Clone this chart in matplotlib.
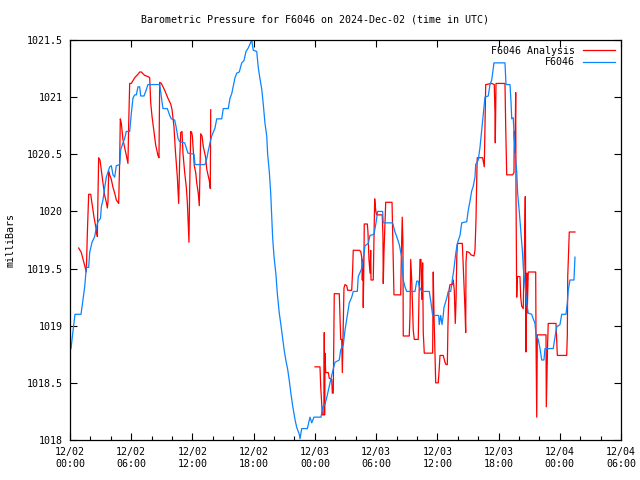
import numpy as np
import matplotlib
matplotlib.use("Agg")
import matplotlib.pyplot as plt
from matplotlib.ticker import MultipleLocator

# hours since 2024-12-02 00:00 UTC, pressure in mbar
obs_h = [0.10, 0.25, 0.49, 1.08, 1.44, 1.60, 1.83, 1.93, 2.16, 2.42, 2.58, 2.74, 2.99, 3.07, 3.23, 3.40,
         3.56, 3.89, 4.05, 4.21, 4.38, 4.54, 4.87, 4.97, 5.19, 5.36, 5.52, 5.85, 6.01, 6.17, 6.34, 6.50,
         6.66, 6.83, 6.93, 7.25, 7.42, 7.64, 8.79, 9.02, 9.11, 9.54, 9.77, 9.93, 10.26, 10.42, 10.58, 10.75,
         11.24, 11.56, 12.15, 12.25, 13.23, 13.40, 13.55, 13.72, 13.89, 14.21, 14.38, 14.87, 15.02, 15.51,
         15.68, 15.85, 16.17, 16.34, 16.59, 16.83, 17.05, 17.25, 17.47, 17.81, 17.96, 18.30, 18.45, 18.62,
         18.79, 18.94, 19.11, 19.28, 19.37, 19.53, 19.67, 19.77, 19.86, 19.99, 20.19, 20.32, 20.51, 20.65,
         20.84, 21.00, 21.17, 21.33, 21.49, 21.66, 21.82, 22.05, 22.22, 22.47, 22.54, 22.71, 23.26, 23.52,
         23.69, 23.91, 24.60, 24.76, 24.99, 25.21, 25.48, 25.74, 25.97, 26.39, 26.53, 26.78, 26.95, 27.18,
         27.37, 27.61, 27.76, 28.16, 28.25, 28.59, 28.74, 28.91, 29.23, 29.40, 29.79, 29.99, 30.15, 30.64,
         30.70, 31.62, 31.85, 32.02, 32.27, 32.51, 32.66, 32.83, 33.00, 33.81, 33.98, 34.13, 34.23, 34.47,
         35.21, 35.38, 35.54, 36.13, 36.19, 36.33, 36.46, 36.58, 36.65, 36.92, 37.07, 37.31, 37.47, 37.63,
         37.80, 37.96, 38.22, 38.39, 38.88, 39.03, 39.20, 39.37, 39.52, 39.69, 39.76, 40.01, 40.18, 40.35,
         40.50, 40.67, 40.99, 41.16, 41.33, 41.55, 42.63, 42.73, 43.12, 43.22, 43.29, 43.44, 43.51, 43.61,
         43.78, 43.87, 44.03, 44.17, 44.33, 44.43, 44.59, 44.76, 44.91, 45.24, 45.57, 45.67, 45.89, 46.06,
         46.23, 46.45, 46.55, 47.36, 47.53, 47.70, 48.02, 48.19, 48.61, 48.74, 48.83, 49.00, 49.39, 49.49]
obs_p = [1018.80, 1018.92, 1019.10, 1019.10, 1019.34, 1019.51, 1019.51, 1019.64, 1019.73, 1019.78, 1019.86,
         1019.91, 1019.94, 1020.04, 1020.10, 1020.21, 1020.30, 1020.39, 1020.40, 1020.32, 1020.30, 1020.40,
         1020.41, 1020.54, 1020.60, 1020.64, 1020.70, 1020.70, 1020.86, 1020.99, 1021.02, 1021.02, 1021.09,
         1021.09, 1021.01, 1021.01, 1021.05, 1021.11, 1021.11, 1020.96, 1020.90, 1020.90, 1020.84, 1020.81,
         1020.80, 1020.73, 1020.64, 1020.61, 1020.60, 1020.51, 1020.50, 1020.41, 1020.41, 1020.46, 1020.53,
         1020.60, 1020.66, 1020.73, 1020.81, 1020.81, 1020.90, 1020.90, 1020.99, 1021.03, 1021.17, 1021.21,
         1021.22, 1021.30, 1021.32, 1021.40, 1021.43, 1021.50, 1021.41, 1021.40, 1021.26, 1021.16, 1021.07,
         1020.94, 1020.77, 1020.66, 1020.50, 1020.35, 1020.16, 1019.96, 1019.77, 1019.61, 1019.44, 1019.28,
         1019.11, 1019.02, 1018.89, 1018.78, 1018.69, 1018.62, 1018.52, 1018.40, 1018.30, 1018.18, 1018.11,
         1018.05, 1018.01, 1018.10, 1018.10, 1018.20, 1018.15, 1018.20, 1018.20, 1018.29, 1018.31, 1018.39,
         1018.50, 1018.60, 1018.68, 1018.70, 1018.79, 1018.83, 1018.96, 1019.09, 1019.20, 1019.25, 1019.30,
         1019.30, 1019.43, 1019.50, 1019.58, 1019.70, 1019.72, 1019.79, 1019.80, 1019.90, 1020.00, 1020.00,
         1019.90, 1019.90, 1019.82, 1019.78, 1019.71, 1019.60, 1019.40, 1019.34, 1019.30, 1019.30, 1019.39,
         1019.39, 1019.34, 1019.30, 1019.30, 1019.20, 1019.09, 1019.09, 1019.01, 1019.09, 1019.01, 1019.09,
         1019.16, 1019.24, 1019.30, 1019.30, 1019.40, 1019.50, 1019.63, 1019.72, 1019.79, 1019.90, 1019.91,
         1020.01, 1020.09, 1020.18, 1020.22, 1020.30, 1020.41, 1020.45, 1020.56, 1020.71, 1020.84, 1021.00,
         1021.01, 1021.11, 1021.15, 1021.30, 1021.30, 1021.11, 1021.11, 1020.96, 1020.81, 1020.82, 1020.70,
         1020.51, 1020.35, 1020.16, 1020.00, 1019.84, 1019.66, 1019.50, 1019.36, 1019.20, 1019.11, 1019.10,
         1019.02, 1018.92, 1018.88, 1018.80, 1018.70, 1018.70, 1018.80, 1018.80, 1018.90, 1018.99, 1019.01,
         1019.10, 1019.10, 1019.20, 1019.31, 1019.40, 1019.40, 1019.60]

# model analysis, two pieces with a gap of missing data
ana_h1 = [0.85, 1.11, 1.37, 1.60, 1.70, 1.83, 2.03, 2.16, 2.35, 2.58, 2.68, 2.74, 2.81, 2.94, 3.07, 3.23,
          3.40, 3.56, 3.66, 3.72, 3.79, 3.89, 4.05, 4.21, 4.38, 4.54, 4.77, 4.87, 4.93, 5.03, 5.19, 5.36,
          5.52, 5.68, 5.75, 5.85, 6.01, 6.34, 6.66, 6.83, 6.99, 7.32, 7.64, 7.81, 7.91, 8.04, 8.23, 8.40,
          8.62, 8.72, 8.79, 8.95, 9.28, 9.60, 9.87, 10.00, 10.19, 10.32, 10.42, 10.52, 10.65, 10.75, 10.85,
          10.98, 11.07, 11.24, 11.40, 11.50, 11.66, 11.73, 11.83, 11.93, 11.99, 12.08, 12.18, 12.32, 12.42,
          12.57, 12.67, 12.74, 12.81, 12.94, 13.06, 13.20, 13.30, 13.40, 13.55, 13.65, 13.75, 13.79]
ana_p1 = [1019.68, 1019.64, 1019.55, 1019.47, 1019.81, 1020.15, 1020.15, 1020.07, 1019.95, 1019.84, 1019.78,
          1020.13, 1020.47, 1020.45, 1020.36, 1020.25, 1020.14, 1020.08, 1020.03, 1020.08, 1020.35, 1020.32,
          1020.28, 1020.21, 1020.16, 1020.10, 1020.07, 1020.45, 1020.81, 1020.77, 1020.63, 1020.56, 1020.49,
          1020.42, 1020.76, 1021.12, 1021.12, 1021.17, 1021.20, 1021.22, 1021.22, 1021.19, 1021.18, 1021.17,
          1020.95, 1020.83, 1020.70, 1020.58, 1020.49, 1020.47, 1021.13, 1021.12, 1021.06, 1020.99, 1020.94,
          1020.89, 1020.74, 1020.54, 1020.42, 1020.30, 1020.07, 1020.45, 1020.69, 1020.70, 1020.51, 1020.34,
          1020.21, 1020.08, 1019.73, 1020.21, 1020.70, 1020.69, 1020.66, 1020.53, 1020.40, 1020.34, 1020.25,
          1020.16, 1020.05, 1020.37, 1020.68, 1020.66, 1020.57, 1020.51, 1020.47, 1020.37, 1020.31, 1020.27,
          1020.20, 1020.89]
ana_h2 = [24.01, 24.50, 24.57, 24.66, 24.73, 24.89, 24.92, 24.95, 24.99, 25.06, 25.31, 25.41, 25.65, 25.71,
          25.80, 25.90, 26.39, 26.46, 26.53, 26.63, 26.69, 26.75, 26.85, 26.95, 27.12, 27.21, 27.61, 27.70,
          27.76, 28.35, 28.49, 28.59, 28.65, 28.71, 28.74, 28.81, 28.84, 29.14, 29.20, 29.30, 29.40, 29.47,
          29.50, 29.72, 29.79, 29.86, 29.96, 30.05, 30.60, 30.67, 30.70, 30.77, 30.87, 30.94, 31.56, 31.62,
          31.75, 32.41, 32.47, 32.56, 32.63, 32.66, 33.25, 33.32, 33.39, 33.49, 33.58, 33.64, 33.74, 34.13,
          34.20, 34.30, 34.40, 34.47, 34.56, 34.62, 34.72, 35.54, 35.60, 35.67, 35.77, 35.84, 36.09, 36.19,
          36.26, 36.58, 36.75, 36.85, 36.98, 37.04, 37.14, 37.24, 37.47, 37.56, 37.66, 37.76, 37.83, 37.90,
          37.96, 38.05, 38.45, 38.55, 38.64, 38.71, 38.78, 38.81, 38.88, 39.13, 39.30, 39.59, 39.69, 39.79,
          39.86, 39.91, 40.44, 40.60, 40.67, 40.74, 41.33, 41.58, 41.65, 41.68, 41.75, 42.63, 42.70, 42.80,
          43.38, 43.51, 43.54, 43.61, 43.68, 43.71, 43.78, 43.84, 44.10, 44.17, 44.27, 44.42, 44.49, 44.56,
          44.62, 44.69, 44.76, 44.81, 44.91, 45.64, 45.67, 45.74, 45.80, 46.65, 46.68, 46.75, 46.81, 46.87,
          47.63, 47.76, 48.68, 48.74, 48.78, 48.93, 49.49]
ana_p2 = [1018.64, 1018.64, 1018.47, 1018.32, 1018.22, 1018.22, 1018.94, 1018.22, 1018.76, 1018.59, 1018.59,
          1018.54, 1018.53, 1018.41, 1018.41, 1019.28, 1019.28, 1019.08, 1018.88, 1018.88, 1018.59, 1018.87,
          1019.33, 1019.36, 1019.35, 1019.31, 1019.31, 1019.49, 1019.66, 1019.66, 1019.65, 1019.60, 1019.40,
          1019.58, 1019.16, 1019.60, 1019.89, 1019.89, 1019.82, 1019.58, 1019.46, 1019.66, 1019.40, 1019.40,
          1019.75, 1020.11, 1020.01, 1019.97, 1019.97, 1019.78, 1019.37, 1019.64, 1019.90, 1020.08, 1020.08,
          1019.81, 1019.27, 1019.27, 1019.60, 1019.95, 1019.72, 1018.91, 1018.91, 1019.09, 1019.58, 1019.40,
          1019.12, 1018.96, 1018.88, 1018.88, 1019.24, 1019.58, 1019.58, 1019.23, 1019.55, 1018.94, 1018.76,
          1018.76, 1019.47, 1019.11, 1018.76, 1018.50, 1018.50, 1018.63, 1018.74, 1018.74, 1018.68, 1018.66,
          1018.66, 1019.00, 1019.31, 1019.36, 1019.36, 1019.40, 1019.31, 1019.02, 1019.21, 1019.58, 1019.71,
          1019.72, 1019.72, 1019.50, 1019.30, 1019.14, 1018.94, 1019.56, 1019.65, 1019.64, 1019.62, 1019.61,
          1019.66, 1019.93, 1020.28, 1020.47, 1020.47, 1020.39, 1020.76, 1021.11, 1021.12, 1021.11, 1020.86,
          1020.60, 1021.12, 1021.12, 1020.74, 1020.32, 1020.32, 1020.34, 1020.70, 1020.52, 1021.04, 1020.13,
          1019.25, 1019.43, 1019.43, 1019.25, 1019.17, 1019.15, 1019.49, 1019.77, 1020.13, 1018.77, 1019.46,
          1019.11, 1019.47, 1019.47, 1018.89, 1018.20, 1018.92, 1018.92, 1018.29, 1018.59, 1018.85, 1019.02,
          1019.02, 1018.74, 1018.74, 1018.92, 1019.43, 1019.82, 1019.82]

xtick_labels = ["12/02\n00:00", "12/02\n06:00", "12/02\n12:00", "12/02\n18:00", "12/03\n00:00",
                "12/03\n06:00", "12/03\n12:00", "12/03\n18:00", "12/04\n00:00", "12/04\n06:00"]
ytick_labels = ["1018", "1018.5", "1019", "1019.5", "1020", "1020.5", "1021", "1021.5"]

plt.rcParams["font.family"] = "DejaVu Sans Mono"
plt.rcParams["font.size"] = 7.2

fig = plt.figure(figsize=(6.4, 4.8), dpi=100)
ax = fig.add_axes([70 / 640, 40 / 480, 551 / 640, 400 / 480])

ana_h = ana_h1 + [np.nan] + ana_h2
ana_p = ana_p1 + [np.nan] + ana_p2
ax.plot(ana_h, ana_p, color="#ff0000", lw=0.9, label="F6046 Analysis")
ax.plot(obs_h, obs_p, color="#0a84ff", lw=0.9, label="F6046")

ax.set_xlim(0, 54)
ax.set_ylim(1018, 1021.5)
ax.set_xticks(np.arange(0, 55, 6))
ax.set_xticklabels(xtick_labels)
ax.xaxis.set_minor_locator(MultipleLocator(2))
ax.set_yticks(np.arange(1018, 1021.51, 0.5))
ax.set_yticklabels(ytick_labels)

ax.tick_params(direction="in", which="major", length=5, width=0.8, top=True, right=True, pad=5)
ax.tick_params(direction="in", which="minor", length=3, width=0.8, top=False, right=False)
for s in ax.spines.values():
    s.set_linewidth(0.9)

# title is centred on the whole canvas, like gnuplot does
fig.text(0.492, 1 - 19 / 480, "Barometric Pressure for F6046 on 2024-Dec-02 (time in UTC)",
         ha="center", va="center", fontsize=7.2)
ax.set_ylabel("milliBars", labelpad=8)

ax.legend(loc="upper right", frameon=False, markerfirst=False, handlelength=3.2,
          handletextpad=0.8, labelspacing=0.15, borderaxespad=0.2)

fig.savefig("out.png", dpi=100)
